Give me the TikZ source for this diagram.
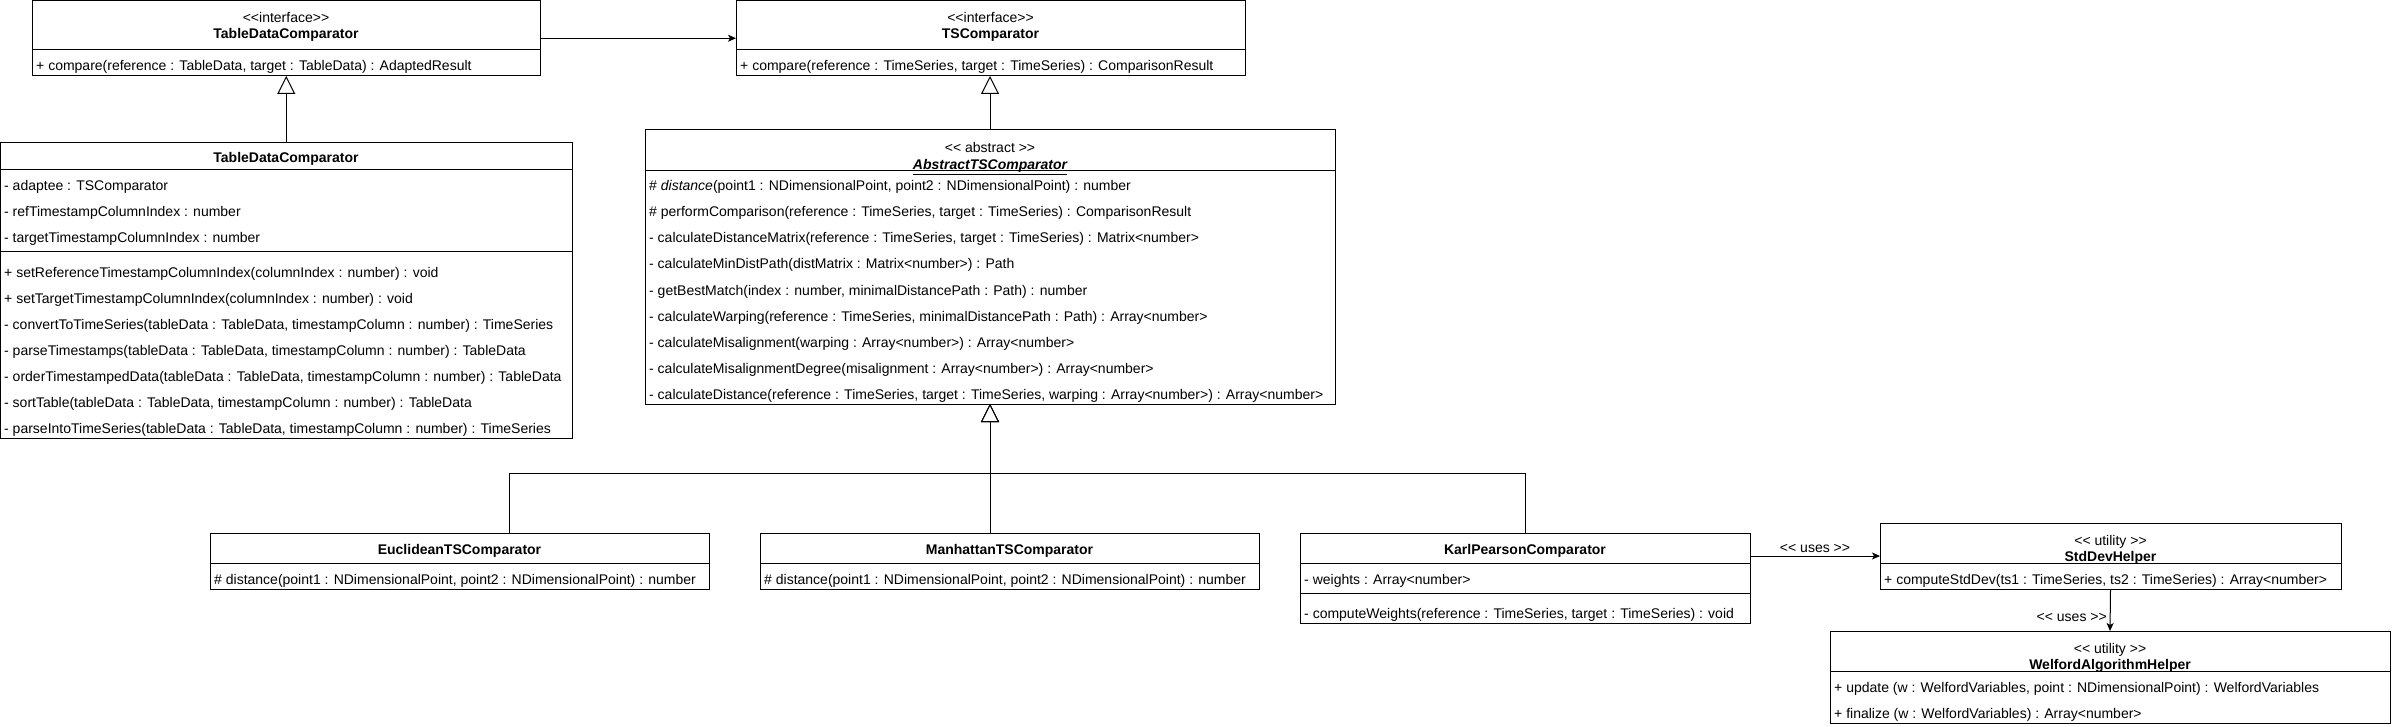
\documentclass[tikz,border=0pt]{standalone}
\usepackage{fontspec}
\setmainfont{Liberation Sans}
\usetikzlibrary{arrows.meta}
\newcommand\stl{<\kern0pt<}
\newcommand\stg{>\kern0pt>}
\begin{document}
\begin{tikzpicture}[x=1pt,y=-1pt,
 box/.style={draw, line width=1pt, fill=white, inner sep=0pt, outer sep=0pt, anchor=north west},
 rowtxt/.style={anchor=west, inner sep=0pt, text height=10pt, text depth=3pt, yshift=-4.5pt, font=\fontsize{14}{16}\selectfont},
 ttl/.style={anchor=center, inner sep=0pt, text height=10pt, text depth=3pt, yshift=-3pt, font=\fontsize{14}{16}\selectfont},
 ttlb/.style={ttl, font=\fontsize{14}{16}\selectfont\bfseries},
 divider/.style={line width=1pt},
 inherit/.style={line width=1pt, -{Triangle[open, length=18pt, width=18pt, fill=white]}},
 assoc/.style={line width=1pt, -{Stealth[length=8pt, width=7pt, inset=2pt]}},
 lbl/.style={font=\fontsize{14}{16}\selectfont, inner sep=3pt}]
\useasboundingbox (0,0) rectangle (2392,727);

% ---- A: interface TableDataComparator
\node[box, minimum width=508pt, minimum height=75.5pt] (A) at (32,0.5) {};
\draw[divider] (32,50) -- (540,50);
\node[ttl] (A-st) at (286,16) {\stl interface\stg};
\node[ttlb] (A-nm) at (286,32) {TableDataComparator};
\node[rowtxt] (A-m1) at (36,63) {+ compare(reference : TableData, target : TableData) : AdaptedResult};

% ---- B: interface TSComparator
\node[box, minimum width=509pt, minimum height=75.5pt] (B) at (736,0.5) {};
\draw[divider] (736,50) -- (1245,50);
\node[ttl] (B-st) at (990.5,16) {\stl interface\stg};
\node[ttlb] (B-nm) at (990.5,32) {TSComparator};
\node[rowtxt] (B-m1) at (740,63) {+ compare(reference : TimeSeries, target : TimeSeries) : ComparisonResult};

% ---- C: class TableDataComparator
\node[box, minimum width=571.5pt, minimum height=295pt] (C) at (0.5,143) {};
\draw[divider] (0.5,170) -- (572,170);
\draw[divider] (0.5,252) -- (572,252);
\node[ttlb] (C-nm) at (286,156) {TableDataComparator};
\node[rowtxt] (C-a1) at (4,183) {- adaptee : TSComparator};
\node[rowtxt] (C-a2) at (4,209) {- refTimestampColumnIndex : number};
\node[rowtxt] (C-a3) at (4,235) {- targetTimestampColumnIndex : number};
\node[rowtxt] (C-m1) at (4,269) {+ setReferenceTimestampColumnIndex(columnIndex : number) : void};
\node[rowtxt] (C-m2) at (4,295) {+ setTargetTimestampColumnIndex(columnIndex : number) : void};
\node[rowtxt] (C-m3) at (4,321) {- convertToTimeSeries(tableData : TableData, timestampColumn : number) : TimeSeries};
\node[rowtxt] (C-m4) at (4,347) {- parseTimestamps(tableData : TableData, timestampColumn : number) : TableData};
\node[rowtxt] (C-m5) at (4,373) {- orderTimestampedData(tableData : TableData, timestampColumn : number) : TableData};
\node[rowtxt] (C-m6) at (4,399) {- sortTable(tableData : TableData, timestampColumn : number) : TableData};
\node[rowtxt] (C-m7) at (4,425) {- parseIntoTimeSeries(tableData : TableData, timestampColumn : number) : TimeSeries};

% ---- D: abstract AbstractTSComparator
\node[box, minimum width=690pt, minimum height=274pt] (D) at (645,130) {};
\draw[divider] (645,171) -- (1335,171);
\node[ttl] (D-st) at (990,146) {\stl{} abstract \stg};
\node[ttl, font=\fontsize{14}{16}\selectfont\bfseries\itshape] (D-nm) at (990,163) {\underline{AbstractTSComparator}};
\node[rowtxt] (D-m1) at (649,183) {\# \textit{distance}(point1 : NDimensionalPoint, point2 : NDimensionalPoint) : number};
\node[rowtxt] (D-m2) at (649,209) {\# performComparison(reference : TimeSeries, target : TimeSeries) : ComparisonResult};
\node[rowtxt] (D-m3) at (649,235) {- calculateDistanceMatrix(reference : TimeSeries, target : TimeSeries) : Matrix<number>};
\node[rowtxt] (D-m4) at (649,261) {- calculateMinDistPath(distMatrix : Matrix<number>) : Path};
\node[rowtxt] (D-m5) at (649,287) {- getBestMatch(index : number, minimalDistancePath : Path) : number};
\node[rowtxt] (D-m6) at (649,313) {- calculateWarping(reference : TimeSeries, minimalDistancePath : Path) : Array<number>};
\node[rowtxt] (D-m7) at (649,339) {- calculateMisalignment(warping : Array<number>) : Array<number>};
\node[rowtxt] (D-m8) at (649,365) {- calculateMisalignmentDegree(misalignment : Array<number>) : Array<number>};
\node[rowtxt] (D-m9) at (649,391) {- calculateDistance(reference : TimeSeries, target : TimeSeries, warping : Array<number>) : Array<number>};

% ---- E: EuclideanTSComparator
\node[box, minimum width=499pt, minimum height=56pt] (E) at (210,533) {};
\draw[divider] (210,563) -- (709,563);
\node[ttlb] (E-nm) at (459.5,548) {EuclideanTSComparator};
\node[rowtxt] (E-m1) at (214,576) {\# distance(point1 : NDimensionalPoint, point2 : NDimensionalPoint) : number};

% ---- F: ManhattanTSComparator
\node[box, minimum width=499pt, minimum height=56pt] (F) at (760,533) {};
\draw[divider] (760,563) -- (1259,563);
\node[ttlb] (F-nm) at (1009.5,548) {ManhattanTSComparator};
\node[rowtxt] (F-m1) at (764,576) {\# distance(point1 : NDimensionalPoint, point2 : NDimensionalPoint) : number};

% ---- G: KarlPearsonComparator
\node[box, minimum width=450pt, minimum height=90pt] (G) at (1300,533) {};
\draw[divider] (1300,563) -- (1750,563);
\draw[divider] (1300,593) -- (1750,593);
\node[ttlb] (G-nm) at (1525,548) {KarlPearsonComparator};
\node[rowtxt] (G-a1) at (1304,576) {- weights : Array<number>};
\node[rowtxt] (G-m1) at (1304,610) {- computeWeights(reference : TimeSeries, target : TimeSeries) : void};

% ---- H: StdDevHelper
\node[box, minimum width=461pt, minimum height=66pt] (H) at (1880,523) {};
\draw[divider] (1880,563) -- (2341,563);
\node[ttl] (H-st) at (2110.5,539) {\stl{} utility \stg};
\node[ttlb] (H-nm) at (2110.5,555) {StdDevHelper};
\node[rowtxt] (H-m1) at (1884,576) {+ computeStdDev(ts1 : TimeSeries, ts2 : TimeSeries) : Array<number>};

% ---- I: WelfordAlgorithmHelper
\node[box, minimum width=560pt, minimum height=92pt] (I) at (1830,631) {};
\draw[divider] (1830,671) -- (2390,671);
\node[ttl] (I-st) at (2110,647) {\stl{} utility \stg};
\node[ttlb] (I-nm) at (2110,663) {WelfordAlgorithmHelper};
\node[rowtxt] (I-m1) at (1834,684) {+ update (w : WelfordVariables, point : NDimensionalPoint) : WelfordVariables};
\node[rowtxt] (I-m2) at (1834,710) {+ finalize (w : WelfordVariables) : Array<number>};

% ---- connectors
\draw[assoc] (A.east) -- (B.west);
\draw[inherit] (C.north) -- (C.north |- A.south);
\draw[inherit] (D.north) -- (D.north |- B.south);
\path (D.south) ++(0,69) coordinate (jn);
\draw[inherit] ([xshift=50pt]E.north) |- (jn) -- (D.south);
\draw[inherit] (D.south |- F.north) -- (D.south);
\draw[inherit] (G.north) |- (jn) -- (D.south);
\draw[assoc] (H.west -| G.east) -- (H.west) node[lbl, midway, above] (u1) {\stl{} uses \stg};
\draw[assoc] (H.south) -- (I.north) node[lbl, midway, left, yshift=-7pt] (u2) {\stl{} uses \stg};
\end{tikzpicture}
\end{document}
